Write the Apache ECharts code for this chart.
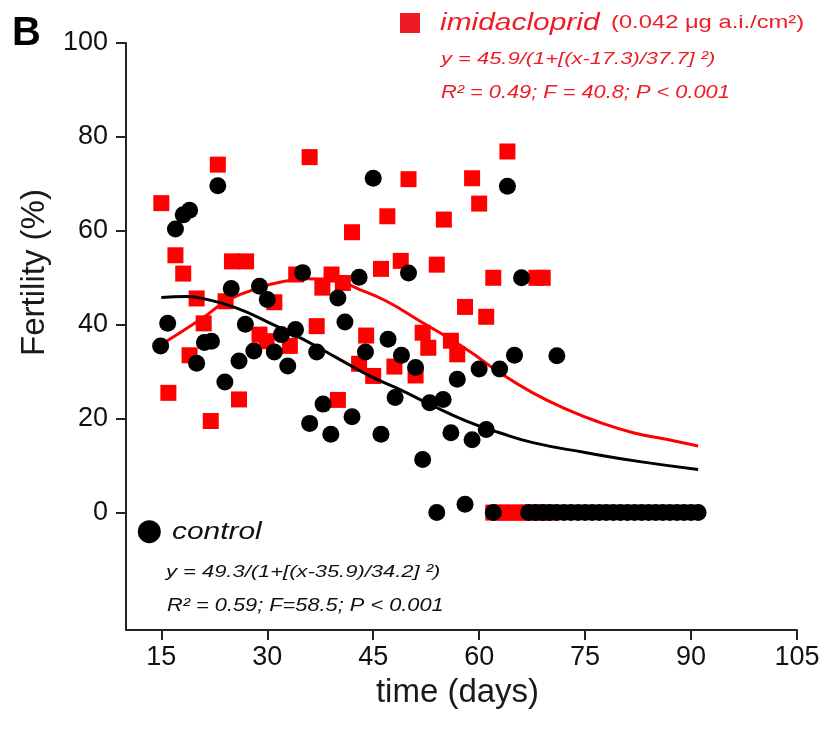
<!DOCTYPE html>
<html>
<head>
<meta charset="utf-8">
<script src="https://cdn.jsdelivr.net/npm/echarts@6/dist/echarts.min.js"></script>
<style>html,body{margin:0;padding:0;background:#fff;}#chart{width:825px;height:742px;}</style>
</head>
<body>
<div id="chart"></div>
<script>
// ---- tick labels ----
const xTicks = [15, 30, 45, 60, 75, 90, 105];
const yTicks = [0, 20, 40, 60, 80, 100];

// ---- control (black circles): [day, fertility %] ----
const controlPoints = [
  [14.9,35.5],[15.9,40.3],[17.0,60.4],[18.1,63.4],[19.0,64.4],[20.0,31.8],[21.1,36.2],[22.1,36.5],
  [23.0,69.6],[24.0,27.8],[24.9,47.7],[26.0,32.3],[26.9,40.1],[28.1,34.4],[28.9,48.2],[30.0,45.4],
  [31.0,34.2],[32.0,37.9],[32.9,31.2],[34.0,39.0],[35.0,51.1],[36.0,19.0],[37.0,34.2],[37.9,23.1],
  [39.0,16.7],[40.0,45.7],[41.0,40.6],[42.0,20.4],[43.0,50.1],[43.9,34.2],[45.0,71.2],[46.1,16.7],
  [47.1,36.9],[48.1,24.5],[49.0,33.5],[50.0,51.0],[51.0,30.9],[52.0,11.3],[53.0,23.4],[54.0,0],
  [54.9,24.1],[56.0,17.0],[56.9,28.4],[58.0,1.8],[59.0,15.5],[60.0,30.6],[61.0,17.7],[62.0,0],
  [62.9,30.6],[64.0,69.5],[65.0,33.5],[66.0,50.0],[71.0,33.4],
  [67,0],[68,0],[69,0],[70,0],[71,0],[72,0],[73,0],[74,0],[75,0],[76,0],[77,0],[78,0],[79,0],
  [80,0],[81,0],[82,0],[83,0],[84,0],[85,0],[86,0],[87,0],[88,0],[89,0],[90,0],[91,0]
];

// ---- imidacloprid (red squares): [day, fertility %] ----
const imidaclopridPoints = [
  [15.0,65.9],[16.0,25.5],[17.0,54.8],[18.1,50.9],[19.0,33.5],[20.0,45.6],[21.0,40.3],[22.0,19.5],
  [23.0,74.1],[24.1,45.0],[25.0,53.5],[26.0,24.1],[27.0,53.5],[28.9,37.9],[29.9,36.5],[31.0,44.8],
  [33.2,35.5],[34.1,50.7],[36.0,75.7],[37.0,39.7],[37.8,47.9],[39.1,50.7],[40.0,24.0],[40.7,48.9],
  [42.0,59.7],[43.0,31.7],[44.0,37.7],[45.0,29.1],[46.1,51.9],[47.0,63.1],[48.0,31.1],[48.9,53.6],
  [50.0,71.0],[51.0,29.2],[52.0,38.3],[52.8,35.1],[54.0,52.8],[55.0,62.4],[56.0,36.6],[56.9,33.7],
  [58.0,43.8],[59.0,71.2],[60.0,65.8],[61.0,41.7],[62.0,50.0],[64.0,76.9],[68.1,50.0],[69.0,50.0],
  [62,0],[63,0],[64,0],[65,0],[66,0],[67,0],[68,0],[69,0],[70,0]
];

// ---- fitted curves, points ----
const controlFit = [
  [15,45.8],[18.5,46.0],[21.4,45.4],[25.6,43.6],[30.3,40.4],[35.1,36.9],[39.8,33.0],[44.5,29.1],
  [48.8,26.2],[53.5,22.7],[58.2,19.5],[62.9,17.0],[67.6,14.9],[75,12.8],[83,10.8],[91,9.2]
];
const imidaclopridFit = [
  [15,35.8],[20.9,41.5],[24.1,44.9],[28.9,47.9],[32.7,49.3],[35.5,49.8],[39.8,49.3],[43.1,47.5],
  [46.9,45.0],[51.6,40.8],[58.2,34.8],[62.9,29.8],[67.6,25.5],[72.4,22.0],[77.1,19.2],[81.8,17.0],
  [86.5,15.6],[91,14.2]
];

const FONT = '"Liberation Sans", Arial, sans-serif';
const RED = '#ff0000';
const TXTRED = '#ee1c25';
const AXIS = '#222222';

const chart = echarts.init(document.getElementById('chart'), null, {renderer: 'canvas'});

function txt(x, y, text, size, opts) {
  opts = opts || {};
  return {
    type: 'text', x: x, y: y, scaleX: opts.scaleX || 1, rotation: opts.rotation || 0,
    style: {
      text: text, x: 0, y: 0,
      font: (opts.style || '') + ' ' + (opts.weight || 'normal') + ' ' + size + 'px ' + FONT,
      fill: opts.color || '#111',
      align: opts.align || 'left', verticalAlign: opts.va || 'middle'
    }, z: 100
  };
}

const option = {
  animation: false,
  backgroundColor: '#fff',
  grid: {left: 126, right: 28, top: 43, bottom: 112, containLabel: false},
  xAxis: {
    type: 'value', min: 10, max: 105,
    axisLine: {show: true, onZero: false, lineStyle: {color: AXIS, width: 2}},
    axisTick: {show: true, customValues: xTicks, length: 10, lineStyle: {color: AXIS, width: 2}},
    axisLabel: {customValues: xTicks, fontSize: 27, fontFamily: FONT, color: '#111', margin: 14},
    splitLine: {show: false}
  },
  yAxis: {
    type: 'value', min: -25, max: 100,
    axisLine: {show: true, onZero: false, lineStyle: {color: AXIS, width: 2}},
    axisTick: {show: true, customValues: yTicks, length: 10, lineStyle: {color: AXIS, width: 2}},
    axisLabel: {customValues: yTicks, fontSize: 27, fontFamily: FONT, color: '#111', margin: 18},
    splitLine: {show: false}
  },
  series: [
    {name: 'imidacloprid', type: 'scatter', data: imidaclopridPoints, symbol: 'rect', symbolSize: 16,
     itemStyle: {color: RED, opacity: 1}, z: 2},
    {name: 'imidacloprid fit', type: 'line', data: imidaclopridFit, smooth: true, showSymbol: false,
     lineStyle: {color: RED, width: 3}, z: 3},
    {name: 'control fit', type: 'line', data: controlFit, smooth: true, showSymbol: false,
     lineStyle: {color: '#000', width: 3}, z: 3},
    {name: 'control', type: 'scatter', data: controlPoints, symbol: 'circle', symbolSize: 17,
     itemStyle: {color: '#000', opacity: 1}, z: 4}
  ],
  graphic: [
    txt(12, 34, 'B', 40, {weight: 'bold', color: '#000'}),
    txt(51, 272.5, 'Fertility (%)', 33, {rotation: Math.PI / 2, align: 'center', va: 'bottom', color: '#1a1a1a'}),
    txt(457.5, 693, 'time (days)', 33, {align: 'center', color: '#1a1a1a'}),
    {type: 'rect', shape: {x: 400, y: 13, width: 20, height: 20}, style: {fill: '#ed1c24'}, z: 100},
    txt(440, 23.5, 'imidacloprid', 23, {style: 'italic', color: TXTRED, scaleX: 1.3}),
    txt(611, 23, '(0.042 μg a.i./cm²)', 19, {color: TXTRED, scaleX: 1.25}),
    txt(441, 59.7, 'y = 45.9/(1+[(x-17.3)/37.7] ²)', 17, {style: 'italic', color: TXTRED, scaleX: 1.29}),
    txt(441, 92.7, 'R² = 0.49; F = 40.8; P < 0.001', 18, {style: 'italic', color: TXTRED, scaleX: 1.21}),
    {type: 'circle', shape: {cx: 149.3, cy: 531.7, r: 11.5}, style: {fill: '#000'}, z: 100},
    txt(172, 533, 'control', 23, {style: 'italic', color: '#111', scaleX: 1.3}),
    txt(166, 572.7, 'y = 49.3/(1+[(x-35.9)/34.2] ²)', 17, {style: 'italic', color: '#111', scaleX: 1.29}),
    txt(167, 606, 'R² = 0.59; F=58.5; P < 0.001', 18, {style: 'italic', color: '#111', scaleX: 1.21})
  ]
};
chart.setOption(option);
</script>
</body>
</html>
